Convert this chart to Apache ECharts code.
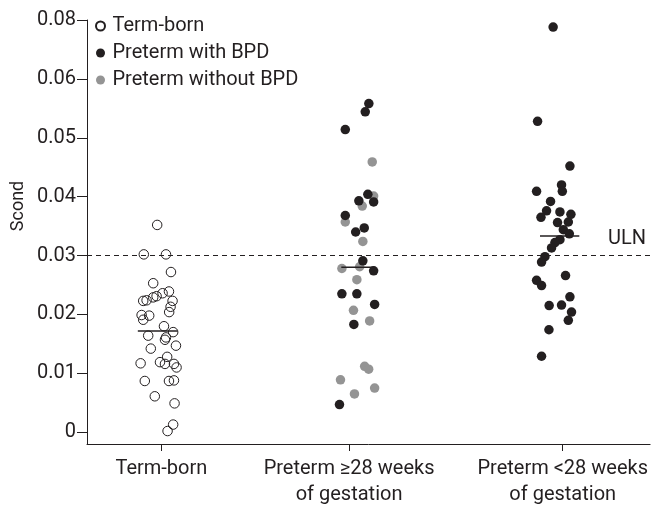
<!DOCTYPE html>
<html><head><meta charset="utf-8">
<script src="https://cdn.jsdelivr.net/npm/echarts@6/dist/echarts.min.js"></script>
<style>html,body{margin:0;padding:0;background:#fff}#c{width:651px;height:508px}</style>
</head><body><div id="c"></div>
<script>
// Categories and their positions on the horizontal axis
const categories = ['Term-born', 'Preterm \u226528 weeks\nof gestation', 'Preterm <28 weeks\nof gestation'];
const categoryPos = [1.01, 1.95, 3.02];
// Y tick labels (the original axis labels jump from 0.06 to 0.08)
const yTickValues = [0, 0.01, 0.02, 0.03, 0.04, 0.05, 0.06, 0.07];
const yTickLabels = ['0', '0.01', '0.02', '0.03', '0.04', '0.05', '0.06', '0.08'];

// Term-born (open circles): horizontal jitter and Scond values
const termJitter = [-0.021,-0.088,0.023,0.048,-0.041,-0.091,-0.074,-0.041,-0.024,0.006,0.038,0.056,0.046,0.039,-0.099,-0.061,-0.091,0.013,0.059,-0.066,0.023,0.018,0.073,-0.053,0.029,-0.104,-0.007,0.018,0.063,0.076,-0.083,0.038,0.063,-0.033,0.066,0.059,0.031];
const termValues = [0.0352,0.0302,0.0302,0.0272,0.0253,0.0223,0.0224,0.0229,0.0231,0.0236,0.0239,0.0223,0.0213,0.0204,0.0199,0.0198,0.0191,0.0180,0.0170,0.0164,0.0161,0.0157,0.0147,0.0142,0.0128,0.0117,0.0119,0.0116,0.0116,0.0110,0.0087,0.0087,0.0088,0.0061,0.0049,0.0013,0.0002];

// Preterm >=28 weeks, with BPD
const ge28BpdJitter = [0.099,0.081,-0.019,0.094,0.049,0.123,-0.019,0.076,0.033,0.069,0.123,-0.036,0.039,0.128,0.024,-0.048];
const ge28BpdValues = [0.0558,0.0544,0.0514,0.0404,0.0393,0.0391,0.0368,0.0347,0.0340,0.0291,0.0274,0.0235,0.0235,0.0217,0.0183,0.0047];
// Preterm >=28 weeks, without BPD
const ge28NoBpdJitter = [0.116,0.123,0.066,-0.019,0.069,-0.036,0.053,0.039,0.022,0.103,0.078,0.098,-0.043,0.128,0.027];
const ge28NoBpdValues = [0.0459,0.0401,0.0384,0.0357,0.0324,0.0278,0.0281,0.0259,0.0207,0.0189,0.0112,0.0107,0.0089,0.0075,0.0065];
// Preterm <28 weeks, with BPD
const lt28BpdJitter = [-0.048,-0.126,0.036,-0.131,-0.006,-0.002,-0.061,-0.081,-0.109,-0.014,0.041,-0.026,0.028,0.003,0.033,-0.014,-0.039,-0.056,-0.089,-0.106,-0.131,-0.106,0.014,0.036,-0.006,-0.068,0.044,0.028,-0.069,-0.106];
const lt28BpdValues = [0.0688,0.0528,0.0452,0.0409,0.0420,0.0409,0.0392,0.0376,0.0365,0.0374,0.0370,0.0356,0.0357,0.0344,0.0337,0.0327,0.0322,0.0313,0.0298,0.0289,0.0258,0.0249,0.0266,0.0230,0.0216,0.0215,0.0204,0.0190,0.0174,0.0129];

// Group means (horizontal bars) and their extent around each category
const groupMeans = [0.0172, 0.0280, 0.0333];
const meanLeft = [-0.118, -0.039, -0.114];
const meanRight = [0.081, 0.128, 0.083];
// Upper limit of normal
const ulnValue = 0.03;
const ulnLabel = 'ULN';

const INK = '#231f20';
const GREY = '#949494';
const FONT = 'Roboto';
const FS = 20;

function pts(cat, jit, vals) { return vals.map((v, i) => [categoryPos[cat] + jit[i], v]); }

const chart = echarts.init(document.getElementById('c'), null, {renderer: 'canvas'});
const meanSeries = groupMeans.map((m, i) => ({
  type: 'line', name: 'mean' + i, symbol: 'none', silent: true, z: 5,
  lineStyle: {color: INK, width: 1.5},
  data: [[categoryPos[i] + meanLeft[i], m], [categoryPos[i] + meanRight[i], m]]
}));
meanSeries[0].markLine = {
  silent: true, symbol: 'none',
  lineStyle: {color: INK, width: 1, type: [5, 4]},
  label: {show: true, position: 'insideEndTop', formatter: ulnLabel, color: INK, fontFamily: FONT, fontSize: FS, distance: [4, 7]},
  data: [{yAxis: ulnValue}]
};

chart.setOption({
  animation: false,
  backgroundColor: '#fff',
  grid: {left: 87, right: 0, top: 20, bottom: 62},
  legend: {
    data: ['Term-born', 'Preterm with BPD', 'Preterm without BPD'],
    orient: 'vertical', left: 90, top: 11, itemGap: 7, itemWidth: 14, itemHeight: 9,
    textStyle: {color: INK, fontFamily: FONT, fontSize: FS}, icon: 'circle'
  },
  xAxis: {
    type: 'value', min: 0.6375, max: 3.4575,
    splitLine: {show: false},
    axisLine: {show: true, onZero: false, lineStyle: {color: INK, width: 1}},
    axisTick: {show: true, customValues: categoryPos, length: 7, lineStyle: {color: INK}},
    axisLabel: {
      customValues: categoryPos, margin: 12, color: INK, fontFamily: FONT, fontSize: FS, lineHeight: 26,
      formatter: v => { let best = 0; categoryPos.forEach((p, i) => { if (Math.abs(p - v) < Math.abs(categoryPos[best] - v)) best = i; }); return categories[best]; }
    }
  },
  yAxis: {
    type: 'value', min: -0.002, max: 0.07,
    splitLine: {show: false},
    axisLine: {show: true, lineStyle: {color: INK, width: 1}},
    axisTick: {show: true, customValues: yTickValues, length: 10, lineStyle: {color: INK}},
    axisLabel: {
      customValues: yTickValues, margin: 11, color: INK, fontFamily: FONT, fontSize: FS,
      formatter: v => { const i = yTickValues.findIndex(t => Math.abs(t - v) < 1e-6); return i >= 0 ? yTickLabels[i] : ''; }
    }
  },
  graphic: [{
    type: 'text', x: 18, y: 206, rotation: Math.PI / 2,
    style: {text: 'Scond', fill: INK, font: '18px ' + FONT, textAlign: 'center', textVerticalAlign: 'middle'}
  }],
  series: [
    {type: 'scatter', name: 'Preterm without BPD', symbol: 'circle', symbolSize: 9.5, z: 2,
     itemStyle: {color: GREY, opacity: 1}, data: pts(1, ge28NoBpdJitter, ge28NoBpdValues)},
    {type: 'scatter', name: 'Preterm with BPD', symbol: 'circle', symbolSize: 9.5, z: 3,
     itemStyle: {color: INK, opacity: 1}, data: pts(1, ge28BpdJitter, ge28BpdValues).concat(pts(2, lt28BpdJitter, lt28BpdValues))},
    {type: 'scatter', name: 'Term-born', symbol: 'circle', symbolSize: 9.5, z: 4,
     itemStyle: {color: 'rgba(255,255,255,0)', borderColor: INK, borderWidth: 1, opacity: 1}, data: pts(0, termJitter, termValues)},
  ].concat(meanSeries)
});
</script></body></html>
